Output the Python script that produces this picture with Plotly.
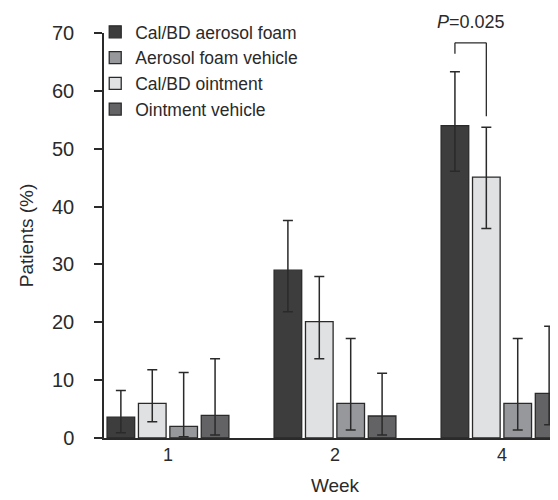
import plotly.graph_objects as go

weeks = ["1", "2", "4"]
series_names = ["Cal/BD aerosol foam", "Cal/BD ointment", "Aerosol foam vehicle", "Ointment vehicle"]
legend_rank = [1, 3, 2, 4]
colors = ["#3d3d3d", "#e0e1e3", "#97989b", "#636366"]

values = [
    [3.6, 29.0, 54.0],
    [6.0, 20.1, 45.1],
    [2.0, 6.0, 6.0],
    [3.9, 3.8, 7.7],
]
err_upper = [
    [8.2, 37.6, 63.3],
    [11.8, 27.9, 53.7],
    [11.3, 17.2, 17.2],
    [13.7, 11.2, 19.3],
]
err_lower = [
    [0.9, 21.8, 46.1],
    [2.8, 13.7, 36.2],
    [0.2, 1.4, 1.4],
    [0.5, 0.5, 2.3],
]

y_ticks = [0, 10, 20, 30, 40, 50, 60, 70]
p_label = "<i>P</i>=0.025"

font_family = "Liberation Sans, Arial, Helvetica, sans-serif"
ink = "#2a2a2a"

fig = go.Figure()
for name, rank, col, v, up, lo in zip(series_names, legend_rank, colors, values, err_upper, err_lower):
    fig.add_trace(go.Bar(
        name=name,
        x=weeks,
        y=v,
        legendrank=rank,
        marker=dict(color=col, line=dict(color=ink, width=1.3)),
        error_y=dict(
            type="data", symmetric=False,
            array=[u - b for u, b in zip(up, v)],
            arrayminus=[b - l for b, l in zip(v, lo)],
            color=ink, thickness=1.5, width=5,
        ),
    ))

# significance bracket between foam and ointment at week 4
fig.add_shape(type="line", xref="x", yref="y",
              x0=2 - 0.282, x1=2 - 0.282, y0=66.4, y1=68.3,
              line=dict(color=ink, width=1.3))
fig.add_shape(type="line", xref="x", yref="y",
              x0=2 - 0.282, x1=2 - 0.094, y0=68.3, y1=68.3,
              line=dict(color=ink, width=1.3))
fig.add_shape(type="line", xref="x", yref="y",
              x0=2 - 0.094, x1=2 - 0.094, y0=55.6, y1=68.3,
              line=dict(color=ink, width=1.3))
fig.add_annotation(x=2 - 0.188, y=69.9, xref="x", yref="y", text=p_label,
                   yanchor="middle", yshift=12,
                   showarrow=False, font=dict(size=18, color=ink, family=font_family))

fig.update_layout(
    width=558, height=500,
    margin=dict(l=96, r=0, t=25, b=70),
    paper_bgcolor="white", plot_bgcolor="white",
    barmode="group", bargap=0.248, bargroupgap=0.12,
    font=dict(family=font_family, size=18, color=ink),
    showlegend=True,
    legend=dict(x=-0.019, y=1.047, xanchor="left", yanchor="top",
                bgcolor="rgba(0,0,0,0)", font=dict(size=17.5, color=ink),
                itemclick=False, tracegroupgap=0),
    xaxis=dict(
        type="category", range=[-0.383, 2.383],
        showline=True, linecolor=ink, linewidth=1.5,
        ticks="", showgrid=False, zeroline=False,
        title=dict(text="Week", standoff=14, font=dict(size=19)),
        tickfont=dict(size=18),
    ),
    yaxis=dict(
        range=[0, 70], tickvals=y_ticks,
        showline=True, linecolor=ink, linewidth=1.5,
        ticks="outside", ticklen=8, tickwidth=1.5, tickcolor=ink,
        ticklabelstandoff=16,
        showgrid=False, zeroline=False,
        title=dict(text="Patients (%)", standoff=13, font=dict(size=19)),
        tickfont=dict(size=20),
    ),
)

fig.write_html("out.html")
